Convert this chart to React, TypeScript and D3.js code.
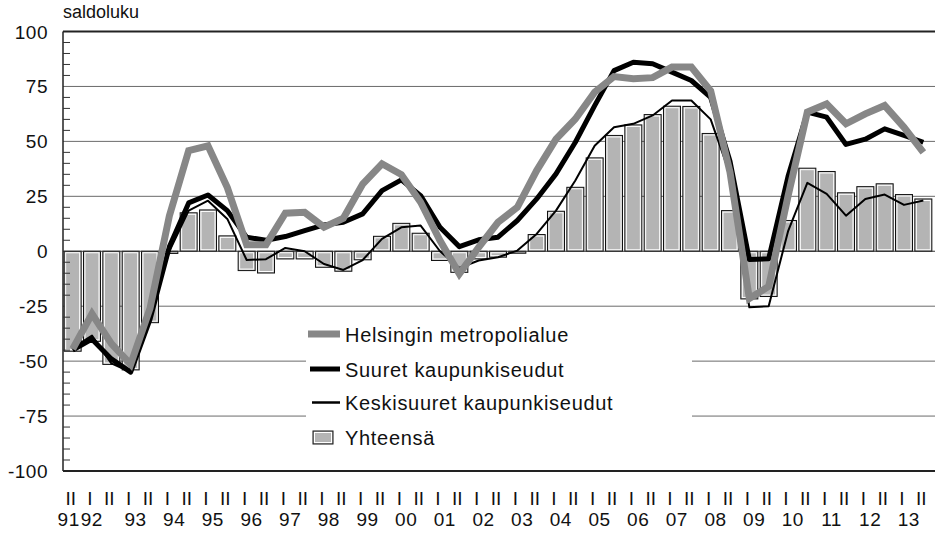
import React from "react";
import { scaleBand, scaleLinear, line } from "d3";

// half-year periods, 1991 II ... 2013 II
const periods: string[] = ["1991-II"];
for (let y = 1992; y <= 2013; y++) {
  periods.push(`${y}-I`, `${y}-II`);
}
const halfLabels = periods.map((p) => p.split("-")[1]);
const yearLabels = ["91", "92", "93", "94", "95", "96", "97", "98", "99", "00", "01", "02", "03", "04", "05", "06", "07", "08", "09", "10", "11", "12", "13"];
const yTicks = [100, 75, 50, 25, 0, -25, -50, -75, -100];

const yhteensa = [
  -45.5, -41, -51.5, -54, -32.5, -1, 17.5, 18.8, 7, -8.8, -9.9, -3.5, -3.5, -7.3, -9.1,
  -3.9, 6.8, 12.7, 8.2, -4.2, -9.6, -3.5, -2.7, -0.9, 7.6, 18.2, 29.1, 42.5, 52.7, 57.5,
  62.2, 66, 65.9, 53.6, 18.5, -21.7, -20.6, 14, 37.8, 36.3, 26.6, 29.4, 30.7, 25.8, 23.8,
];
const helsinki = [
  -44.5, -28.5, -42, -51.5, -26, 16, 45.8, 48, 29, 3, 3, 17.3, 17.7, 11, 15,
  30.6, 39.8, 34.9, 22.3, 4.9, -10.3, 1.8, 13.2, 20, 36.7, 51, 60.2, 72.4, 79.5, 78.5,
  79, 83.8, 83.8, 73, 36, -21.5, -16, 25, 63.3, 67, 58, 62.5, 66.3, 56.4, 45,
];
const suuret = [
  -45, -40, -49, -55, -31, 2, 22, 25.6, 18.5, 6.4, 5, 6.7, 9.4, 12, 13.2,
  17, 27.6, 32.5, 25.3, 10.9, 2.1, 5.2, 6.4, 14, 23.8, 35.2, 49.6, 66.3, 82.2, 86,
  85.3, 81.5, 77.7, 70, 41, -3.8, -3.4, 34, 63.3, 61, 48.6, 51, 55.7, 52.7, 49.6,
];
const keskisuuret = [
  -44, -38.4, -51, -55, -29, 0, 18.5, 23, 14.7, -4, -3.6, 1.5, 0, -5.8, -8.5,
  -4, 5.6, 10.9, 11.7, 0, -7.6, -4.2, -2.7, 0.3, 7.9, 18.5, 32.2, 48, 56.4, 58,
  61.8, 68.6, 68.6, 60, 35, -25.5, -25, 9, 31.1, 26.1, 16.2, 23.8, 25.8, 21.1, 23.1,
];

const W = 935;
const H = 540;
const left = 63;
const right = 933;
const top = 31.5;
const bottom = 471;

const GREY_LINE = "#878787";
const BAR_FILL = "#b4b4b4";
const FONT = "'Liberation Sans', Arial, sans-serif";

export default function App() {
  const x = scaleBand<string>().domain(periods).range([left, right]).paddingInner(0.12).paddingOuter(0.06);
  const y = scaleLinear().domain([-100, 100]).range([bottom, top]);
  const cx = (i: number) => (x(periods[i]) as number) + x.bandwidth() / 2;

  const mkLine = line<number>()
    .x((_, i) => cx(i))
    .y((d) => y(d));

  const minor: number[] = [];
  for (let v = -95; v < 100; v += 5) if (v % 25 !== 0) minor.push(v);

  const step = x.step();

  return (
    <svg width={W} height={H} style={{ position: "absolute", left: 0, top: 0, background: "#fff" }} fontFamily={FONT}>
      <rect x={0} y={0} width={W} height={H} fill="#fff" />

      {/* gridlines */}
      {yTicks.filter((t) => t !== 100 && t !== -100 && t !== 0).map((t) => (
        <line key={t} x1={left} x2={W} y1={y(t)} y2={y(t)} stroke="#6a6a6a" strokeWidth={1} />
      ))}

      {/* bars */}
      {yhteensa.map((v, i) => {
        const bx = x(periods[i]) as number;
        const bw = x.bandwidth();
        const y0 = Math.min(y(v), y(0));
        const h = Math.abs(y(v) - y(0));
        return (
          <g key={i}>
            <rect x={bx} y={y0} width={bw} height={h} fill={BAR_FILL} stroke="#111" strokeWidth={1} />
            {h > 3 && (
              <rect x={bx + 1.5} y={y0 + 1.5} width={bw - 3} height={h - 3} fill="none" stroke="#fff" strokeWidth={1} />
            )}
          </g>
        );
      })}

      <line x1={left} x2={W} y1={y(0)} y2={y(0)} stroke="#333" strokeWidth={1.2} />

      {/* lines */}
      <path d={mkLine(keskisuuret) || ""} fill="none" stroke="#000" strokeWidth={2} strokeLinejoin="round" />
      <path d={mkLine(suuret) || ""} fill="none" stroke="#000" strokeWidth={5} strokeLinejoin="round" />
      <path d={mkLine(helsinki) || ""} fill="none" stroke={GREY_LINE} strokeWidth={7} strokeLinejoin="miter" />

      {/* legend */}
      <rect x={306} y={318} width={386} height={146} fill="#fff" />
      {[
        { label: "Helsingin metropolialue", cy: 334, kind: "grey" },
        { label: "Suuret kaupunkiseudut", cy: 369, kind: "thick" },
        { label: "Keskisuuret kaupunkiseudut", cy: 402.5, kind: "thin" },
        { label: "Yhteensä", cy: 437.5, kind: "bar" },
      ].map((l) => (
        <g key={l.label}>
          {l.kind === "grey" && <line x1={308} x2={340} y1={l.cy} y2={l.cy} stroke={GREY_LINE} strokeWidth={7} />}
          {l.kind === "thick" && <line x1={310} x2={340} y1={l.cy} y2={l.cy} stroke="#000" strokeWidth={5} />}
          {l.kind === "thin" && <line x1={312} x2={340} y1={l.cy} y2={l.cy} stroke="#000" strokeWidth={2.5} />}
          {l.kind === "bar" && (
            <g>
              <rect x={313} y={l.cy - 6.5} width={20} height={13} fill={BAR_FILL} stroke="#111" strokeWidth={1} />
              <rect x={314.5} y={l.cy - 5} width={17} height={10} fill="none" stroke="#fff" strokeWidth={1} />
            </g>
          )}
          <text x={345} y={l.cy + 7.5} fontSize={20} letterSpacing={0.7} fill="#111">
            {l.label}
          </text>
        </g>
      ))}

      {/* frame / axes */}
      <line x1={left} x2={W} y1={top} y2={top} stroke="#222" strokeWidth={2} />
      <line x1={left} x2={W} y1={bottom} y2={bottom} stroke="#222" strokeWidth={2} />
      <line x1={left} x2={left} y1={top} y2={bottom} stroke="#222" strokeWidth={1.5} />
      {minor.map((v) => (
        <line key={v} x1={left} x2={left + 7} y1={y(v)} y2={y(v)} stroke="#333" strokeWidth={1} />
      ))}

      {/* y tick labels */}
      {yTicks.map((t) => (
        <text key={t} x={48} y={y(t) + 7} textAnchor="end" fontSize={19} letterSpacing={0.5} fill="#111">
          {t}
        </text>
      ))}
      <text x={63} y={18} fontSize={18} fill="#111">
        saldoluku
      </text>

      {/* x labels */}
      {halfLabels.map((h, i) => (
        <text key={i} x={cx(i) - 2} y={505} textAnchor="middle" fontSize={19} fill="#111">
          {h}
        </text>
      ))}
      {yearLabels.map((yl, k) => {
        let xx = k === 0 ? cx(0) - 4 : left + step * 0.06 + 2 * k * step - 6;
        if (k === 1) xx -= 5;
        return (
          <text key={yl} x={xx} y={526} textAnchor="middle" fontSize={19} letterSpacing={0.5} fill="#111">
            {yl}
          </text>
        );
      })}
    </svg>
  );
}
